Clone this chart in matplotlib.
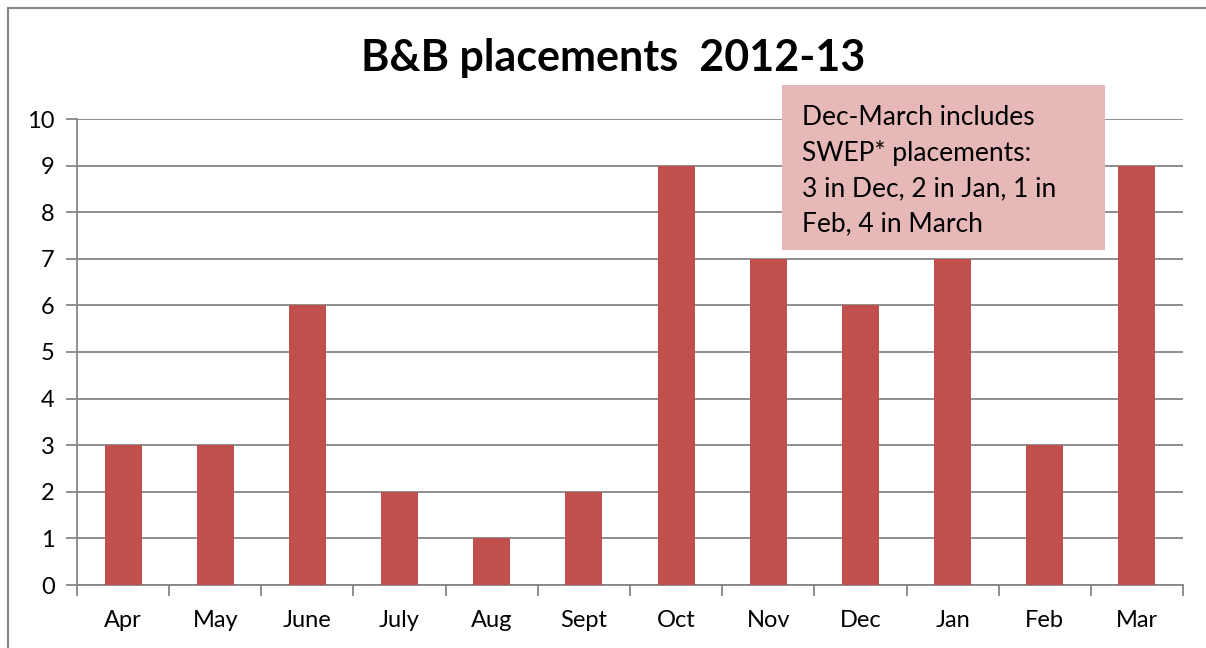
import matplotlib.pyplot as plt
from matplotlib.patches import Rectangle
import numpy as np

plt.rcParams['font.family'] = ['Lato', 'DejaVu Sans']

meses = ['Apr', 'May', 'June', 'July', 'Aug', 'Sept', 'Oct', 'Nov', 'Dec', 'Jan', 'Feb', 'Mar']
colocaciones = [3, 3, 6, 2, 1, 2, 9, 7, 6, 7, 3, 9]
nota = 'Dec-March includes\nSWEP* placements:\n3 in Dec, 2 in Jan, 1 in\nFeb, 4 in March'

W, H = 1206, 648
fig = plt.figure(figsize=(W / 100, H / 100), dpi=100)

# borde exterior del grafico
fig.patches.append(Rectangle((8 / W, -0.1), 1.2, (H - 8) / H + 0.1, transform=fig.transFigure,
                             fill=False, edgecolor='#868686', linewidth=1.5))

ax = fig.add_axes([77 / W, (H - 585) / H, (1183 - 77) / W, (585 - 119) / H])
x = np.arange(len(meses))
ax.bar(x, colocaciones, width=0.4, color='#C0504D', zorder=3)

ax.set_xlim(-0.5, len(meses) - 0.5)
ax.set_ylim(0, 10)
ax.set_yticks(range(0, 11))
ax.yaxis.grid(True, color='#868686', linewidth=1.3, zorder=0)
ax.set_xticks(x)
ax.set_xticklabels(meses, fontsize=17)
ax.tick_params(axis='x', length=0, pad=18)
ax.set_xticks(np.arange(-0.5, len(meses)), minor=True)
ax.tick_params(axis='x', which='minor', length=8, width=1.3, color='#868686', direction='out')
ax.tick_params(axis='y', length=8, width=1.3, color='#868686', labelsize=17, pad=8)
for s in ['top', 'right']:
    ax.spines[s].set_visible(False)
for s in ['left', 'bottom']:
    ax.spines[s].set_color('#868686')
    ax.spines[s].set_linewidth(1.3)

fig.text(0.508, (H - 58) / H, 'B&B placements  2012-13', ha='center', va='center',
         fontsize=31, fontweight='bold')

# cuadro de nota
fig.patches.append(Rectangle((782 / W, (H - 250) / H), (1105 - 782) / W, (250 - 85) / H,
                             transform=fig.transFigure, facecolor='#E6B9B8', edgecolor='none', zorder=5))
fig.text(802 / W, (H - 105) / H, nota, ha='left', va='top', fontsize=19, linespacing=1.5, zorder=6)

plt.savefig('out.png', dpi=100)
